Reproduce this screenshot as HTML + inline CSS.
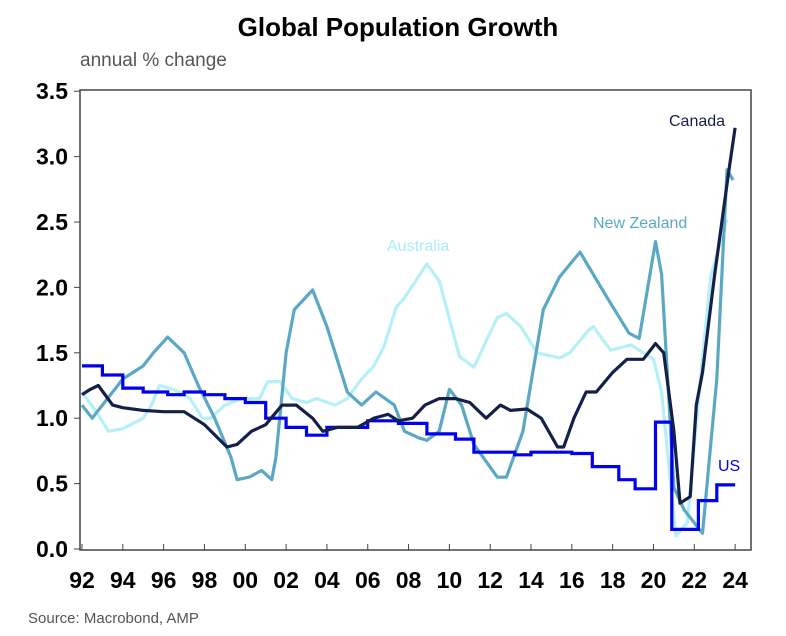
<!DOCTYPE html>
<html><head><meta charset="utf-8"><style>
body{margin:0;background:#fff;font-family:"Liberation Sans",sans-serif}
svg{display:block}
</style></head><body>
<svg width="786" height="636" id="chart">
<text x="398" y="36" text-anchor="middle" font-size="26" font-weight="bold" fill="#000">Global Population Growth</text>
<text x="80" y="66" font-size="19" fill="#555">annual % change</text>
<text x="28" y="623" font-size="15" fill="#555">Source: Macrobond, AMP</text>
<rect x="80" y="90" width="671" height="460" fill="none" stroke="#444" stroke-width="1.5"/>
<g id="axes"></g>
<g id="series"></g>
<text x="669" y="126" font-size="16" fill="#14204a">Canada</text>
<text x="593" y="228" font-size="16" fill="#5ba8c4">New Zealand</text>
<text x="387" y="251" font-size="16" fill="#a8eef7">Australia</text>
<text x="718" y="471" font-size="16" fill="#0000ee">US</text>
</svg>
<script>
const yTicks=[0,0.5,1,1.5,2,2.5,3,3.5];
const xTickYears=[92,94,96,98,0,2,4,6,8,10,12,14,16,18,20,22,24];
const nzYears=[0,0.5,1,2,3,3.5,4.2,5,5.7,6.5,7.3,7.6,8.2,8.8,9.3,9.5,10,10.4,11.3,12,12.6,13,13.7,14.4,15.3,15.8,16.5,16.9,17.5,18,18.6,19.2,20.35,20.8,21.6,22.6,23.4,24.4,25.7,26.8,27.3,28.1,28.4,29,29.5,30.4,31.1,31.6,31.9];
const nzVals=[1.1,1.0,1.1,1.3,1.4,1.5,1.62,1.5,1.25,1.0,0.7,0.53,0.55,0.6,0.53,0.7,1.5,1.83,1.98,1.7,1.4,1.2,1.1,1.2,1.1,0.9,0.85,0.83,0.9,1.22,1.1,0.8,0.55,0.55,0.9,1.83,2.08,2.27,1.93,1.65,1.61,2.35,2.1,0.47,0.3,0.12,1.3,2.9,2.82];
const auYears=[0,0.7,1.3,2,3,3.4,3.8,4.5,5.3,5.9,6.3,7,7.8,8.7,9.1,9.7,10.3,11,11.5,12.4,13,13.7,14.3,14.8,15.4,15.8,16.9,17.5,18.5,19.2,20.35,20.8,21.5,22.3,23.4,23.9,24.8,25.05,25.9,26.9,27.5,28,28.4,29.1,29.65,30.3,30.8,31.6];
const auVals=[1.2,1.05,0.9,0.92,1.0,1.1,1.25,1.22,1.15,1.0,1.0,1.1,1.15,1.15,1.28,1.28,1.15,1.12,1.15,1.1,1.15,1.3,1.4,1.55,1.85,1.92,2.18,2.05,1.47,1.39,1.77,1.8,1.7,1.5,1.46,1.5,1.67,1.7,1.52,1.56,1.5,1.45,1.2,0.1,0.2,1.3,2.08,2.52];
const caYears=[0,0.4,0.8,1.5,2,3,4,5,6,7.1,7.6,8.3,9,9.8,10.5,11.3,11.8,12.5,13.5,14.3,15,15.5,16.2,16.8,17.5,18.3,19,19.8,20.5,21,21.8,22.5,23.3,23.6,24.1,24.7,25.2,26,26.7,27.5,28.1,28.5,29,29.3,29.8,30.1,30.4,31,31.7,32];
const caVals=[1.18,1.22,1.25,1.1,1.08,1.06,1.05,1.05,0.95,0.78,0.8,0.9,0.95,1.1,1.1,1.0,0.9,0.93,0.93,1.0,1.03,0.98,1.0,1.1,1.15,1.15,1.12,1.0,1.1,1.06,1.07,1.0,0.78,0.78,1.0,1.2,1.2,1.35,1.45,1.45,1.57,1.5,0.9,0.35,0.4,1.1,1.35,2.1,2.9,3.22];
const usStarts=[0,1,2,3,4.2,5,6,7,8,9,10,11,12,14,15.5,16.9,18.3,19.2,21.2,22,24,25,26.3,27.1,28.1,28.9,30.2,31.1];
const usVals=[1.4,1.33,1.23,1.2,1.18,1.2,1.18,1.15,1.12,1.0,0.93,0.87,0.93,0.98,0.96,0.88,0.84,0.74,0.72,0.74,0.73,0.63,0.53,0.46,0.97,0.15,0.37,0.49];
const usEnd=32;
</script>
<script>
const X0=82,XPY=20.41,Y0=549,YPU=130.8;
const xs=t=>X0+t*XPY, ys=v=>Y0-v*YPU;
const NS='http://www.w3.org/2000/svg';
const ax=document.getElementById('axes'), sg=document.getElementById('series');
function mk(tag,attrs,parent){const e=document.createElementNS(NS,tag);for(const k in attrs)e.setAttribute(k,attrs[k]);parent.appendChild(e);return e;}
yTicks.forEach(v=>{
  const l=mk('line',{x1:74,x2:80,y1:ys(v),y2:ys(v),stroke:'#444','stroke-width':1},ax);
  
  
  const t=mk('text',{x:68,y:ys(v)+8,'text-anchor':'end','font-size':23,'font-weight':'bold'},ax);
  t.textContent=v.toFixed(1);
  
  
});
xTickYears.forEach((yr,i)=>{
  const x=xs(i*2);
  const l=mk('line',{x1:x,x2:x,y1:544,y2:550,stroke:'#444','stroke-width':1},ax);
  
  
  const t=mk('text',{x:x,y:588,'text-anchor':'middle','font-size':23,'font-weight':'bold'},ax);
  t.textContent=String(yr).padStart(2,'0');
  
  
});
function line(xa,va,color,name){
  const d=xa.map((t,i)=>(i?'L':'M')+xs(t).toFixed(1)+','+ys(va[i]).toFixed(1)).join('');
  const p=mk('path',{d:d,fill:'none',stroke:color,'stroke-width':3.2,'stroke-linejoin':'round'},sg);
  
  
}
line(auYears,auVals,'#b5f0f7','australia-line');
line(nzYears,nzVals,'#5ba8c4','new-zealand-line');
let d='';
usStarts.forEach((t,i)=>{
  const end=i<usStarts.length-1?usStarts[i+1]:usEnd;
  d+=(i===0?'M':'L')+xs(t).toFixed(1)+','+ys(usVals[i]).toFixed(1);
  d+='L'+xs(end).toFixed(1)+','+ys(usVals[i]).toFixed(1);
});
const up=mk('path',{d:d,fill:'none',stroke:'#0000ee','stroke-width':3.2},sg);


line(caYears,caVals,'#14204a','canada-line');
</script>
</body></html>
